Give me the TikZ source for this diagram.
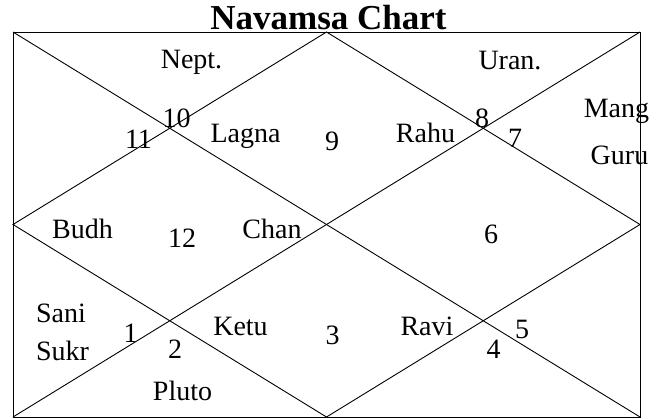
\documentclass[tikz,border=0pt]{standalone}
\usepackage{fontspec}
\setmainfont{Liberation Serif}
\usepackage{tikz}
\usetikzlibrary{positioning,calc}

\begin{document}
\begin{tikzpicture}[
  x=1pt,y=-1pt,
  every node/.style={inner sep=0pt,anchor=base},
  lbl/.style={font=\fontsize{28}{30}\selectfont},
  heading/.style={font=\fontsize{35}{38}\selectfont\bfseries},
  chartline/.style={draw=black,line width=0.9pt}
]
\useasboundingbox (0,0) rectangle (666,418);
% corners and mid points of the chart
\coordinate (nw) at (13,32);
\coordinate (ne) at (640,32);
\coordinate (sw) at (13,417);
\coordinate (se) at (640,417);
\coordinate (n) at ($(nw)!0.5!(ne)$);
\coordinate (s) at ($(sw)!0.5!(se)$);
\coordinate (w) at ($(nw)!0.5!(sw)$);
\coordinate (e) at ($(ne)!0.5!(se)$);
\draw[chartline] (nw) rectangle (se);
\draw[chartline] (nw)--(se);
\draw[chartline] (sw)--(ne);
\draw[chartline] (n)--(w)--(s)--(e)--cycle;
\node[heading] (title) at (328.5,29.5) {Navamsa Chart};
% house numbers
\node[lbl] (h1) at (130.5,342) {1};
\node[lbl] (h2) at (175,358) {2};
\node[lbl] (h3) at (332.5,344) {3};
\node[lbl] (h4) at (493.5,358) {4};
\node[lbl] (h5) at (522,338) {5};
\node[lbl] (h6) at (491,243) {6};
\node[lbl] (h7) at (515,147) {7};
\node[lbl] (h8) at (482,127) {8};
\node[lbl] (h9) at (332,150) {9};
\node[lbl] (h10) at (176.5,127) {10};
\node[lbl] (h11) at (138.5,148) {11};
\node[lbl] (h12) at (182,247) {12};
% planets
\node[lbl] (nept) at (191.5,68.5) {Nept.};
\node[lbl] (uran) at (510,69) {Uran.};
\node[lbl] (lagna) at (245.5,142) {Lagna};
\node[lbl] (rahu) at (425.5,142) {Rahu};
\node[lbl] (mang) at (616.5,117) {Mang};
\node[lbl] (guru) at (619.5,164.5) {Guru};
\node[lbl] (budh) at (82.5,238) {Budh};
\node[lbl] (chan) at (272,238) {Chan};
\node[lbl] (sani) at (61,322) {Sani};
\node[lbl] (sukr) at (62.5,360) {Sukr};
\node[lbl] (ketu) at (240.5,335) {Ketu};
\node[lbl] (ravi) at (427,335) {Ravi};
\node[lbl] (pluto) at (182.5,400) {Pluto};
\end{tikzpicture}
\end{document}
